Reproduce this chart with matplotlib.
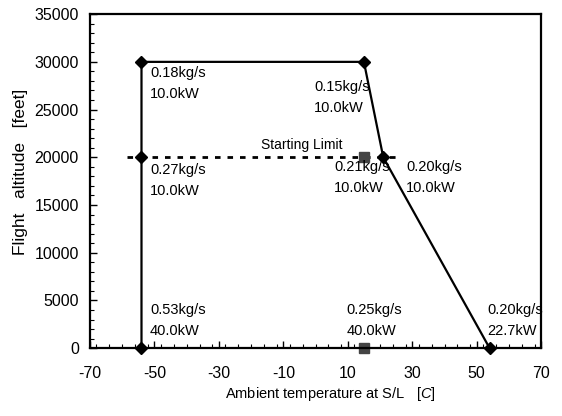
import matplotlib
matplotlib.use("Agg")
import matplotlib.pyplot as plt
from matplotlib.ticker import MultipleLocator

plt.rcParams['font.family'] = ['Liberation Sans', 'DejaVu Sans']
plt.rcParams['mathtext.fontset'] = 'custom'
plt.rcParams['mathtext.it'] = 'Liberation Sans:italic'
plt.rcParams['mathtext.rm'] = 'Liberation Sans'
plt.rcParams['axes.unicode_minus'] = False

# envelope
env_temp = [-54, -54, 15, 21, 54]
env_alt = [0, 30000, 30000, 20000, 0]
# diamond points
dia_temp = [-54, -54, -54, 15, 21, 54]
dia_alt = [0, 20000, 30000, 30000, 20000, 0]
# square points
sq_temp = [15, 15]
sq_alt = [20000, 0]
# starting limit
lim_temp = [-58.5, 25.6]
lim_alt = [20000, 20000]

labels = ["0.18kg/s\n10.0kW", "0.15kg/s\n10.0kW", "0.27kg/s\n10.0kW",
          "0.21kg/s\n10.0kW", "0.20kg/s\n10.0kW", "0.53kg/s\n40.0kW",
          "0.25kg/s\n40.0kW", "0.20kg/s\n22.7kW"]
label_x = [-51.4, -0.5, -51.4, 5.8, 28.1, -51.4, 9.5, 53.3]
label_y = [29550, 28100, 19400, 19700, 19700, 4700, 4700, 4700]

fig = plt.figure(figsize=(5.62, 4.16), dpi=100)
ax = fig.add_axes([0.160, 0.163, 0.803, 0.803])

ax.plot(env_temp, env_alt, color='black', lw=1.6)
ax.plot(lim_temp, lim_alt, color='black', lw=2, linestyle=(0, (2, 2.5)))
ax.plot(dia_temp, dia_alt, 'D', color='black', ms=6, clip_on=False)
ax.plot(sq_temp, sq_alt, 's', color='#444444', ms=7, clip_on=False)

for t, x, y in zip(labels, label_x, label_y):
    ax.text(x, y, t, fontsize=10.5, va='top', ha='left', linespacing=1.6)

ax.text(-4.2, 20600, "Starting Limit", fontsize=10, ha='center', va='bottom')

ax.set_xlim(-70, 70)
ax.set_ylim(0, 35000)
ax.xaxis.set_major_locator(MultipleLocator(20))
ax.xaxis.set_minor_locator(MultipleLocator(4))
ax.yaxis.set_major_locator(MultipleLocator(5000))
ax.yaxis.set_minor_locator(MultipleLocator(1000))
ax.set_xticks(range(-70, 71, 20))
ax.tick_params(which='both', direction='in', top=False, right=False, labelsize=11.5)
ax.tick_params(which='major', length=5, width=1)
ax.tick_params(which='minor', length=3, width=0.8)
ax.tick_params(axis='x', pad=13)
ax.tick_params(axis='y', pad=8)
for s in ax.spines.values():
    s.set_linewidth(1.6)

ax.set_xlabel("Ambient temperature at S/L   [$\\it{C}$]", fontsize=10.5)
ax.set_ylabel("Flight   altitude   [feet]", fontsize=12.5)
ax.xaxis.set_label_coords(0.532, -0.111)
ax.yaxis.set_label_coords(-0.137, 0.527)

fig.savefig("out.png", dpi=100)
